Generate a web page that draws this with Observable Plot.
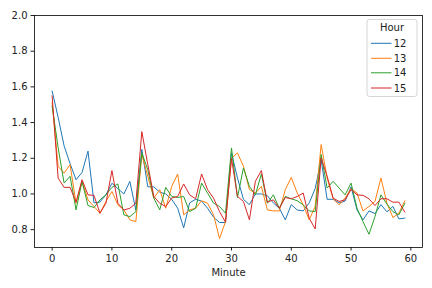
<!DOCTYPE html>
<html>
<head>
<meta charset="utf-8">
<script src="https://cdn.jsdelivr.net/npm/d3@7"></script>
<script src="https://cdn.jsdelivr.net/npm/@observablehq/plot@0.6"></script>
<style>
  html, body { margin: 0; padding: 0; background: #fff; }
  #chart { width: 432px; height: 288px; }
</style>
</head>
<body>
<div id="chart"></div>
<script>
const minutes = d3.range(60);
const hours = ["12", "13", "14", "15"];
const colors = ["#1f77b4", "#ff7f0e", "#2ca02c", "#d62728"];
const xTicks = [0, 10, 20, 30, 40, 50, 60];
const yTicks = [0.8, 1.0, 1.2, 1.4, 1.6, 1.8, 2.0];

const h12 = [1.577, 1.43, 1.27, 1.17, 1.08, 1.12, 1.24, 0.95, 0.955, 0.995,
  1.06, 1.03, 1.0, 1.07, 0.91, 1.25, 1.04, 1.04, 1.01, 1.0,
  0.97, 0.92, 0.81, 0.95, 0.97, 0.96, 0.92, 0.87, 0.84, 0.84,
  1.23, 1.09, 0.97, 0.94, 1.0, 1.0, 0.99, 0.95, 0.92, 0.855,
  0.94, 0.91, 0.905, 0.95, 1.03, 1.19, 0.97, 0.97, 0.95, 0.96,
  1.04, 0.91, 0.855, 0.905, 0.89, 0.94, 0.9, 0.93, 0.86, 0.865];
const h13 = [1.512, 1.155, 1.117, 1.164, 0.948, 1.07, 0.967, 0.93, 0.892, 0.958,
  1.014, 0.939, 0.911, 0.855, 0.845, 1.221, 1.1, 0.977, 1.024, 0.92,
  1.042, 1.112, 0.883, 0.911, 0.92, 0.962, 0.948, 0.883, 0.75, 0.845,
  1.2, 1.23, 1.155, 1.024, 1.005, 1.042, 0.911, 0.905, 0.905, 1.024,
  1.093, 1.005, 0.939, 0.855, 0.93, 1.277, 1.089, 0.973, 0.939, 0.977,
  1.03, 1.005, 0.905, 0.93, 0.958, 1.089, 0.948, 0.868, 0.892, 0.962];
const h14 = [1.493, 1.26, 1.061, 1.099, 0.911, 1.07, 0.935, 0.924, 0.967, 0.995,
  1.037, 1.056, 0.883, 0.873, 0.901, 1.23, 1.136, 0.977, 0.911, 1.037,
  0.986, 0.98, 0.986, 0.901, 0.92, 1.061, 1.005, 0.948, 0.93, 0.892,
  1.258, 0.98, 1.146, 1.042, 0.995, 1.112, 0.948, 0.995, 0.92, 0.986,
  0.973, 0.962, 0.939, 0.905, 0.901, 1.221, 1.033, 1.071, 1.033, 0.995,
  1.061, 0.92, 0.845, 0.774, 0.873, 0.995, 0.943, 0.901, 0.883, 0.948];
const h15 = [1.55, 1.089, 1.037, 1.037, 0.954, 1.08, 0.995, 0.992, 0.892, 0.948,
  1.131, 0.948, 0.91, 0.92, 0.948, 1.349, 1.165, 0.986, 0.948, 0.93,
  0.977, 0.986, 1.056, 0.995, 0.973, 1.112, 1.024, 0.977, 0.901, 0.842,
  1.2, 0.986, 0.958, 0.855, 1.071, 1.131, 0.954, 0.967, 0.92, 0.98,
  0.973, 0.986, 1.005, 0.864, 0.804, 1.202, 1.099, 0.977, 0.958, 0.967,
  1.025, 0.995, 0.992, 0.973, 0.935, 0.973, 0.973, 0.954, 0.954, 0.898];

const series = [h12, h13, h14, h15];
const rows = hours.flatMap((h, i) =>
  series[i].map((v, j) => ({ minute: minutes[j], value: v, hour: h })));

const chart = Plot.plot({
  width: 432,
  height: 288,
  marginLeft: 34,
  marginRight: 10,
  marginTop: 15,
  marginBottom: 41,
  style: { fontFamily: "DejaVu Sans", fontSize: "10px", color: "#222", background: "#fff" },
  x: { domain: [-2.95, 61.95] },
  y: { domain: [0.7, 2.0] },
  color: { domain: hours, range: colors },
  marks: [
    Plot.axisX({ ticks: xTicks, tickSize: 3.5, tickPadding: 3.5, label: "Minute",
      labelAnchor: "center", labelArrow: "none", labelOffset: 28, fontSize: 10 }),
    Plot.axisY({ ticks: yTicks, tickFormat: d3.format(".1f"), tickSize: 3.5,
      tickPadding: 3.5, label: null, fontSize: 10 }),
    Plot.line(rows, { x: "minute", y: "value", z: "hour", stroke: "hour", strokeWidth: 1 }),
    Plot.frame({ stroke: "#000", strokeWidth: 0.8 })
  ]
});

document.getElementById("chart").appendChild(chart);

// Legend (matplotlib style)
const svg = d3.select(chart);
const lg = svg.append("g").attr("font-family", "DejaVu Sans").attr("font-size", 10);
lg.append("rect").attr("x", 367).attr("y", 19.5).attr("width", 50).attr("height", 77)
  .attr("rx", 2.5).attr("fill", "#fff").attr("fill-opacity", 0.8).attr("stroke", "#ccc").attr("stroke-width", 0.8);
lg.append("text").attr("x", 392).attr("y", 27.5).attr("text-anchor", "middle")
  .attr("dominant-baseline", "central").attr("fill", "#222").text("Hour");
const ys = [43.3, 58.3, 72.8, 88.0];
hours.forEach((h, i) => {
  lg.append("line").attr("x1", 371).attr("x2", 391.5).attr("y1", ys[i]).attr("y2", ys[i])
    .attr("stroke", colors[i]).attr("stroke-width", 1);
  lg.append("text").attr("x", 400).attr("y", ys[i]).attr("dominant-baseline", "central")
    .attr("fill", "#222").text(h);
});
</script>
</body>
</html>
